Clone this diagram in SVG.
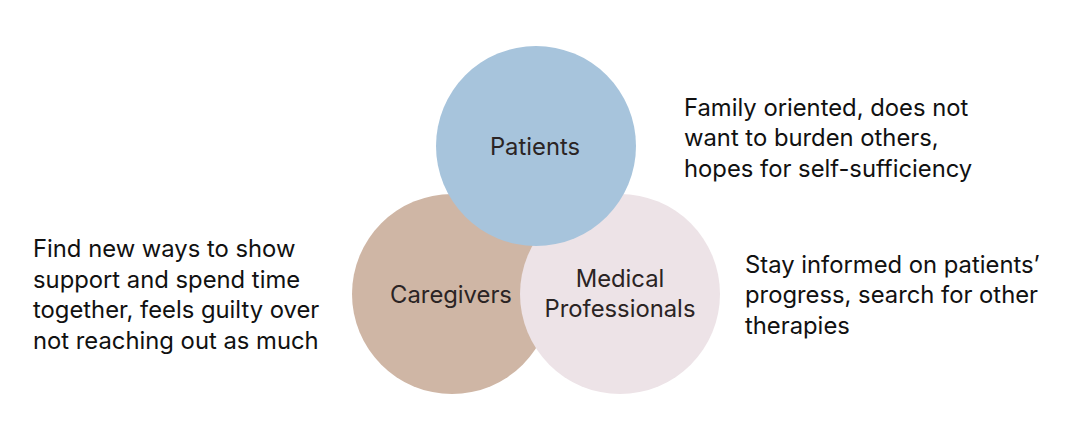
<svg xmlns="http://www.w3.org/2000/svg" width="1074" height="438" viewBox="0 0 1074 438">
<style>
.lbl{font-family:Inter,"Liberation Sans",sans-serif;font-size:23.8px;fill:#2b2424;text-anchor:middle}
.cap{font-family:Inter,"Liberation Sans",sans-serif;font-size:23.8px;fill:#111111}
</style>
<rect width="1074" height="438" fill="#ffffff"/>
<g id="caregivers">
<circle cx="452" cy="294" r="100" fill="#CFB6A5"/>
<text class="lbl" x="451" y="303">Caregivers</text>
</g>
<g id="medical">
<circle cx="620" cy="294" r="100" fill="#EDE3E7"/>
<text class="lbl" x="620" y="287">Medical</text>
<text class="lbl" x="620" y="317">Professionals</text>
</g>
<g id="patients">
<circle cx="536" cy="146" r="100" fill="#A7C4DC"/>
<text class="lbl" x="535" y="155">Patients</text>
</g>
<g id="connectors"></g>
<g id="captions">
<text class="cap" x="33"><tspan x="33" y="257">Find new ways to show</tspan><tspan x="33" y="287.5">support and spend time</tspan><tspan x="33" y="318">together, feels guilty over</tspan><tspan x="33" y="348.5">not reaching out as much</tspan></text>
<text class="cap"><tspan x="684" y="115.5">Family oriented, does not</tspan><tspan x="684" y="146">want to burden others,</tspan><tspan x="684" y="176.5">hopes for self-sufficiency</tspan></text>
<text class="cap"><tspan x="745" y="272.5">Stay informed on patients’</tspan><tspan x="745" y="303">progress, search for other</tspan><tspan x="745" y="333.5">therapies</tspan></text>
</g>
</svg>
